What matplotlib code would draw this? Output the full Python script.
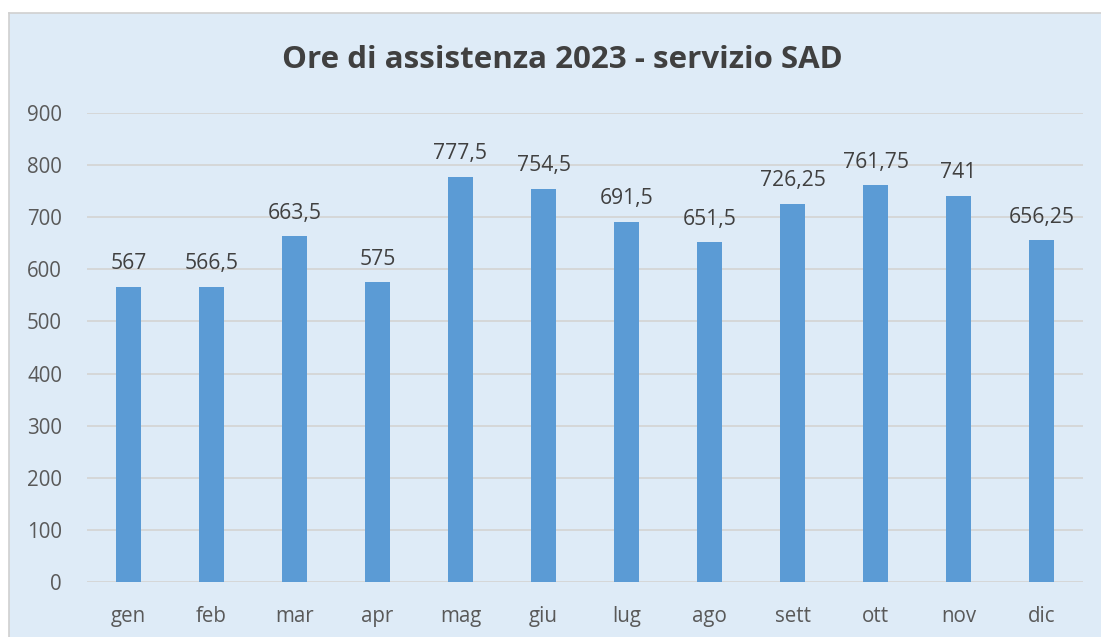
import matplotlib
matplotlib.use("Agg")
import matplotlib.pyplot as plt
from matplotlib.patches import Rectangle
from matplotlib.lines import Line2D

months = ["gen", "feb", "mar", "apr", "mag", "giu", "lug", "ago", "sett", "ott", "nov", "dic"]
hours = [567, 566.5, 663.5, 575, 777.5, 754.5, 691.5, 651.5, 726.25, 761.75, 741, 656.25]
yticks = [0, 100, 200, 300, 400, 500, 600, 700, 800, 900]

W, H = 1101, 637
fig = plt.figure(figsize=(W/100, H/100), dpi=100, facecolor="white")
plt.rcParams['font.family'] = ['Open Sans', 'DejaVu Sans']

bg = Rectangle((9/W, 0), 1 - 9/W, 1 - 13/H, transform=fig.transFigure,
               facecolor="#DEEBF7", edgecolor="none", zorder=-10)
fig.patches.append(bg)
fig.lines.append(Line2D([9/W, 9/W], [0, 1 - 13/H], transform=fig.transFigure,
                        color="#D0D0D0", linewidth=1.2, zorder=-9))
fig.lines.append(Line2D([9/W, 1], [1 - 13/H, 1 - 13/H], transform=fig.transFigure,
                        color="#D0D0D0", linewidth=1.2, zorder=-9))

ax = fig.add_axes([87/W, (637-582)/H, (1083-87)/W, (582-113)/H])
ax.set_facecolor("none")
x = list(range(len(months)))
ax.bar(x, hours, width=0.30, color="#5B9BD5", zorder=3)
ax.set_xlim(-0.5, len(months) - 0.5)
ax.set_ylim(0, 900)
ax.set_yticks(yticks)
ax.set_yticklabels([str(t) for t in yticks], fontsize=14.8, color="#595959")
ax.set_xticks(x)
ax.set_xticklabels(months, fontsize=14.8, color="#595959")
ax.tick_params(axis="y", length=0, pad=18)
ax.tick_params(axis="x", length=0, pad=17)
ax.grid(axis="y", color="#D5D5D5", linewidth=1.3, zorder=0)
for s in ax.spines.values():
    s.set_visible(False)

def fmt(v):
    s = ("%g" % v).replace(".", ",")
    return s

for xi, v in zip(x, hours):
    ax.annotate(fmt(v), (xi, v), xytext=(0, 9), textcoords="offset points",
                ha="center", va="bottom", fontsize=15.2, color="#404040", zorder=4)

fig.text(562/W, 1 - 60/H, "Ore di assistenza 2023 - servizio SAD", ha="center", va="center",
         fontsize=22.5, fontweight="bold", color="#404040")

fig.savefig("out.png", dpi=100, facecolor="white")
